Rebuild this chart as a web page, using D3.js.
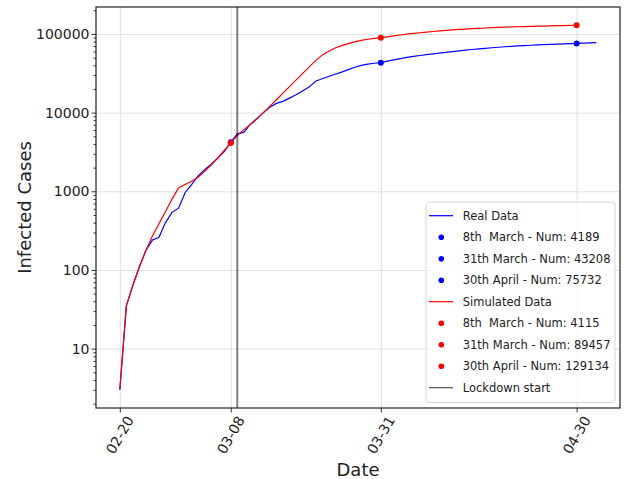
<!DOCTYPE html>
<html>
<head>
<meta charset="utf-8">
<script src="https://cdn.jsdelivr.net/npm/d3@7"></script>
<style>
body { margin: 0; background: #fff; }
svg, svg text { font-family: "DejaVu Sans", sans-serif; }
.grid line { stroke: #e0e0e0; stroke-width: 1; }
.grid path { display: none; }
</style>
</head>
<body>
<div id="chart"></div>
<script>
// daily values starting 02-20
var startDate = "2020-02-20";
var realCases = [3, 35, 64, 110, 177, 240, 261, 400, 540, 611,
	960, 1215, 1570, 1880, 2210, 2640, 3190, 4189, 5370, 5600,
	7150, 8400, 10000, 11750, 13100, 13900, 15300, 16900, 18800, 21100,
	25100, 27000, 28800, 30800, 32700, 35200, 37800, 39800, 41300, 42400,
	43208, 45200, 46900, 48600, 50300, 51800, 53200, 54500, 55800, 57100,
	58200, 59500, 60900, 62200, 63500, 64700, 65700, 66800, 67800, 68800,
	69700, 70500, 71200, 71900, 72600, 73200, 73800, 74300, 74800, 75300,
	75732, 76300, 76900, 77400];
var simCases = [3, 35, 64, 110, 177, 270, 386, 555, 796, 1100,
	1220, 1340, 1510, 1800, 2150, 2650, 3300, 4115, 5100, 6080,
	7040, 8270, 10000, 12100, 14600, 17700, 21400, 25900, 31300, 37900,
	45800, 53800, 60400, 66300, 71000, 75300, 79400, 82700, 85700, 87900,
	89457, 92000, 94500, 97000, 99300, 101500, 103600, 105600, 107500, 109300,
	111000, 112600, 114100, 115500, 116800, 118000, 119100, 120100, 121000, 121900,
	122700, 123500, 124200, 124900, 125500, 126100, 126700, 127300, 127900, 128500,
	129134];
var markDates = ["2020-03-08", "2020-03-31", "2020-04-30"];
var realMarks = [4189, 43208, 75732];
var simMarks = [4115, 89457, 129134];
var lockdownDate = "2020-03-09";
var xTickDates = ["2020-02-20", "2020-03-08", "2020-03-31", "2020-04-30"];
var yTicks = [10, 100, 1000, 10000, 100000];
var legendLabels = ["Real Data", "8th  March - Num: 4189", "31th March - Num: 43208", "30th April - Num: 75732",
	"Simulated Data", "8th  March - Num: 4115", "31th March - Num: 89457", "30th April - Num: 129134",
	"Lockdown start"];

var parse = d3.utcParse("%Y-%m-%d");
var t0 = parse(startDate);
var real = realCases.map(function(v, i) { return { x: d3.utcDay.offset(t0, i), y: v }; });
var sim = simCases.map(function(v, i) { return { x: d3.utcDay.offset(t0, i), y: v }; });

var W = 624, H = 479;
var mLeft = 96, mRight = 620, mTop = 7, mBottom = 408;

var svg = d3.select("#chart").append("svg")
	.attr("width", W)
	.attr("height", H);

// matplotlib style 5% margins
var xMin = real[0].x, xMax = real[real.length - 1].x;
var pad = (xMax - xMin) * 0.05;
var x = d3.scaleUtc()
	.domain([new Date(+xMin - pad), new Date(+xMax + pad)])
	.range([mLeft, mRight]);

var lo = Math.log10(d3.min(realCases.concat(simCases)));
var hi = Math.log10(d3.max(realCases.concat(simCases)));
var lpad = (hi - lo) * 0.05;
var y = d3.scaleLog()
	.domain([Math.pow(10, lo - lpad), Math.pow(10, hi + lpad)])
	.range([mBottom, mTop]);

var xTicks = xTickDates.map(parse);

// grid
svg.append("g")
	.attr("class", "grid")
	.attr("transform", "translate(0," + mBottom + ")")
	.call(d3.axisBottom(x).tickValues(xTicks).tickSize(-(mBottom - mTop)).tickFormat(""));
svg.append("g")
	.attr("class", "grid")
	.attr("transform", "translate(" + mLeft + ",0)")
	.call(d3.axisLeft(y).tickValues(yTicks).tickSize(-(mRight - mLeft)).tickFormat(""));

var line = d3.line()
	.x(function(d) { return x(d.x); })
	.y(function(d) { return y(d.y); });

svg.append("path")
	.datum(real)
	.attr("d", line)
	.attr("fill", "none")
	.attr("stroke", "#0000ff")
	.attr("stroke-width", 1.2);

svg.selectAll(".realDot")
	.data(realMarks)
	.enter()
	.append("circle")
	.attr("cx", function(d, i) { return x(parse(markDates[i])); })
	.attr("cy", function(d) { return y(d); })
	.attr("r", 3)
	.attr("fill", "#0000ff");

svg.append("path")
	.datum(sim)
	.attr("d", line)
	.attr("fill", "none")
	.attr("stroke", "#ff0000")
	.attr("stroke-width", 1.2);

svg.selectAll(".simDot")
	.data(simMarks)
	.enter()
	.append("circle")
	.attr("cx", function(d, i) { return x(parse(markDates[i])); })
	.attr("cy", function(d) { return y(d); })
	.attr("r", 3)
	.attr("fill", "#ff0000");

svg.append("line")
	.attr("x1", x(parse(lockdownDate)))
	.attr("x2", x(parse(lockdownDate)))
	.attr("y1", mTop)
	.attr("y2", mBottom)
	.attr("stroke", "#000")
	.attr("stroke-opacity", 0.5)
	.attr("stroke-width", 2);

// axes
var xAxis = svg.append("g")
	.attr("transform", "translate(0," + mBottom + ")")
	.call(d3.axisBottom(x).tickValues(xTicks).tickSize(4.5).tickFormat(d3.utcFormat("%m-%d")));
xAxis.attr("font-family", null);
xAxis.select(".domain").remove();
xAxis.selectAll(".tick line").attr("stroke", "#333");
xAxis.selectAll(".tick text")
	.attr("font-size", 14)
	.attr("fill", "#222")
	.attr("y", 0)
	.attr("dy", null)
	.attr("text-anchor", "middle")
	.attr("dominant-baseline", "central")
	.attr("transform", "translate(-0.5,27) rotate(-60)");

var minor = [];
for (var e = 0; e <= 5; e++)
	for (var m = 2; m <= 9; m++)
	{
		var v = m * Math.pow(10, e);
		if (v >= y.domain()[0] && v <= y.domain()[1]) minor.push(v);
	}

var yMinor = svg.append("g")
	.attr("transform", "translate(" + mLeft + ",0)")
	.call(d3.axisLeft(y).tickValues(minor).tickSize(2.5).tickFormat(""));
yMinor.select(".domain").remove();
yMinor.selectAll(".tick line").attr("stroke", "#333");

var yAxis = svg.append("g")
	.attr("transform", "translate(" + mLeft + ",0)")
	.call(d3.axisLeft(y).tickValues(yTicks).tickSize(4.5).tickPadding(2).tickFormat(d3.format("d")));
yAxis.attr("font-family", null);
yAxis.select(".domain").remove();
yAxis.selectAll(".tick line").attr("stroke", "#333");
yAxis.selectAll(".tick text").attr("font-size", 14).attr("fill", "#222");

svg.append("rect")
	.attr("x", mLeft)
	.attr("y", mTop)
	.attr("width", mRight - mLeft)
	.attr("height", mBottom - mTop)
	.attr("fill", "none")
	.attr("stroke", "#222")
	.attr("stroke-width", 1.2);

svg.append("text")
	.attr("x", (mLeft + mRight) / 2)
	.attr("y", 475.5)
	.attr("text-anchor", "middle")
	.attr("font-size", 18)
	.attr("fill", "#222")
	.text("Date");

svg.append("text")
	.attr("transform", "translate(30.5," + ((mTop + mBottom) / 2) + ") rotate(-90)")
	.attr("text-anchor", "middle")
	.attr("font-size", 18)
	.attr("fill", "#222")
	.text("Infected Cases");

// legend
var lg = svg.append("g").attr("transform", "translate(426,202)");
lg.append("rect")
	.attr("width", 189)
	.attr("height", 200.5)
	.attr("rx", 3)
	.attr("fill", "#fff")
	.attr("fill-opacity", 0.8)
	.attr("stroke", "#d6d6d6");

var kinds = ["line", "dot", "dot", "dot", "line", "dot", "dot", "dot", "line"];
var kindColors = ["#0000ff", "#0000ff", "#0000ff", "#0000ff", "#ff0000", "#ff0000", "#ff0000", "#ff0000", "#555"];

var row = lg.selectAll(".row")
	.data(legendLabels)
	.enter()
	.append("g")
	.attr("transform", function(d, i) { return "translate(0," + (13.7 + i * 21.5) + ")"; });

row.each(function(d, i)
{
	var g = d3.select(this);
	if (kinds[i] == "line")
		g.append("line").attr("x1", 3).attr("x2", 27).attr("stroke", kindColors[i]).attr("stroke-width", 1.2);
	else
		g.append("circle").attr("cx", 15.3).attr("r", 2.8).attr("fill", kindColors[i]);
});

row.append("text")
	.attr("x", 36.7)
	.attr("dominant-baseline", "central")
	.attr("font-size", 11.5)
	.attr("fill", "#222")
	.style("white-space", "pre")
	.text(function(d) { return d; });
</script>
</body>
</html>
